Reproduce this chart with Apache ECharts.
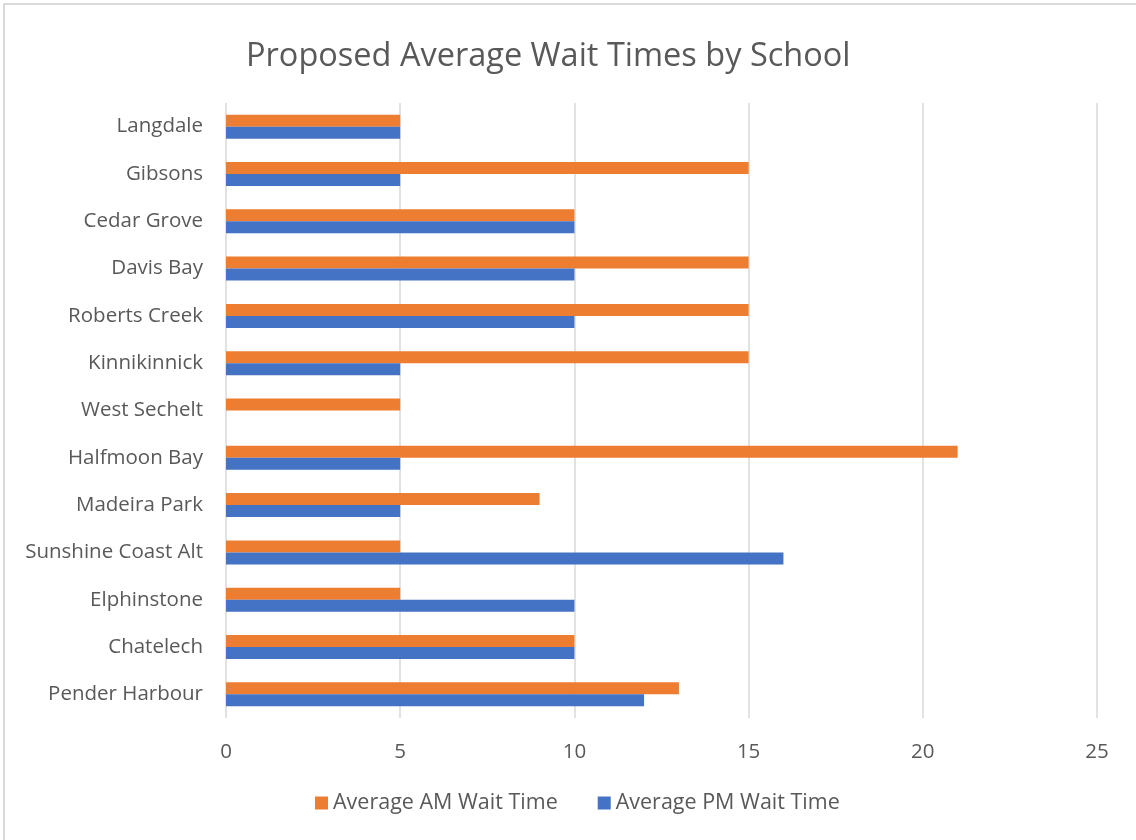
<!DOCTYPE html>
<html>
<head>
<meta charset="utf-8">
<script src="https://cdn.jsdelivr.net/npm/echarts@6/dist/echarts.min.js"></script>
<style>
  html, body { margin: 0; padding: 0; background: #fff; }
  #chart { width: 1136px; height: 840px; }
</style>
</head>
<body>
<div id="chart"></div>
<script>
// schools, top to bottom as shown
const schools = [
    "Langdale", "Gibsons", "Cedar Grove", "Davis Bay", "Roberts Creek",
    "Kinnikinnick", "West Sechelt", "Halfmoon Bay", "Madeira Park",
    "Sunshine Coast Alt", "Elphinstone", "Chatelech", "Pender Harbour"
];
const amWait = [5, 15, 10, 15, 15, 15, 5, 21, 9, 5, 5, 10, 13];
const pmWait = [5, 5, 10, 10, 10, 5, 0, 5, 5, 16, 10, 10, 12];
const seriesNames = ["Average AM Wait Time", "Average PM Wait Time"];

const font = "'Open Sans', 'Liberation Sans', sans-serif";
const textGrey = "#595959";

const chart = echarts.init(document.getElementById("chart"));

chart.setOption({
    animation: false,
    textStyle: { fontFamily: font },
    graphic: [{
        type: "rect",
        shape: { x: 4, y: 4, width: 1140, height: 850 },
        style: { fill: "none", stroke: "#d9d9d9", lineWidth: 2 },
        silent: true
    }],
    title: {
        text: "Proposed Average Wait Times by School",
        left: 241,
        top: 35,
        textStyle: {
            fontFamily: font,
            fontSize: 32.5,
            fontWeight: "normal",
            color: textGrey
        }
    },
    legend: {
        data: seriesNames,
        bottom: 21,
        left: 310,
        itemWidth: 13,
        itemHeight: 13,
        itemGap: 40,
        icon: "rect",
        textStyle: { fontFamily: font, fontSize: 21.5, color: textGrey }
    },
    grid: {
        left: 226,
        right: 39,
        top: 103,
        bottom: 122,
        containLabel: false
    },
    xAxis: {
        type: "value",
        min: 0,
        max: 25,
        interval: 5,
        axisLine: { show: false },
        axisTick: { show: false },
        axisLabel: {
            margin: 24,
            fontFamily: font,
            fontSize: 20.5,
            color: textGrey
        },
        splitLine: { lineStyle: { color: "#d9d9d9", width: 1.5 } }
    },
    yAxis: {
        type: "category",
        inverse: true,
        data: schools,
        axisLine: { show: false },
        axisTick: { show: false },
        axisLabel: {
            margin: 23,
            fontFamily: font,
            fontSize: 20.5,
            color: textGrey
        }
    },
    series: [
        {
            name: seriesNames[0],
            type: "bar",
            data: amWait,
            barWidth: 12,
            barGap: "0%",
            itemStyle: { color: "#ED7D31" }
        },
        {
            name: seriesNames[1],
            type: "bar",
            data: pmWait,
            barWidth: 12,
            barGap: "0%",
            itemStyle: { color: "#4472C4" }
        }
    ]
});
</script>
</body>
</html>
